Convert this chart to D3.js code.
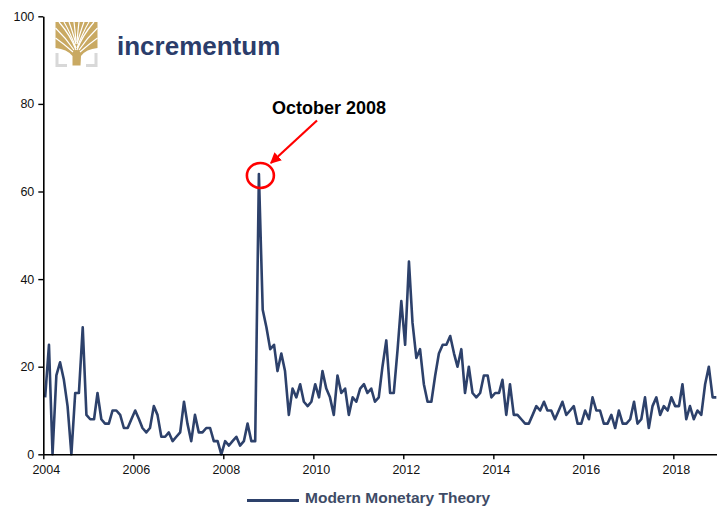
<!DOCTYPE html>
<html><head><meta charset="utf-8">
<script src="https://cdn.jsdelivr.net/npm/d3@7"></script>
<style>
html,body{margin:0;padding:0;background:#fff;}
svg{display:block;font-family:"Liberation Sans",Arial,sans-serif;}
</style></head>
<body><svg id="c" width="717" height="507"></svg>
<script>
// Monthly values, Jan 2004 .. Dec 2018
const startYear = 2004;
const values = [
 13,25,0,18,21,17,11,0,14,14,29,9,
 8,8,14,8,7,7,10,10,9,6,6,8,
 10,8,6,5,6,11,9,4,4,5,3,4,
 5,12,7,3,9,5,5,6,6,3,3,0,
 3,2,3,4,2,3,7,3,3,64,33,29,
 24,25,19,23,19,9,15,13,16,12,11,12,
 16,13,19,15,13,9,18,14,15,9,13,12,
 15,16,14,15,12,13,20,26,14,14,24,35,
 25,44,30,22,24,16,12,12,18,23,25,25,
 27,23,20,24,14,20,14,13,14,18,18,13,
 14,14,17,9,16,9,9,8,7,7,9,11,
 10,12,10,10,8,10,12,9,10,11,7,7,
 10,8,13,10,10,7,7,9,6,10,7,7,
 8,12,7,8,13,6,11,13,9,11,10,13,
 11,11,16,8,11,8,10,9,16,20,13,13
];
const yTicks = [0,20,40,60,80,100];
const xTickYears = [2004,2006,2008,2010,2012,2014,2016,2018];
const seriesName = "Modern Monetary Theory";
const annotationText = "October 2008";
const annotationIndex = 57;

const data = values.map((v,i)=>({date:new Date(startYear, i, 16), value:v}));

const svg = d3.select("#c");
const x = d3.scaleTime().domain([new Date(2004,0,1), new Date(2019,0,1)]).range([43.3, 718.3]);
const y = d3.scaleLinear().domain([0,100]).range([454.3, 16.3]);

svg.append("clipPath").attr("id","clip").append("rect")
  .attr("x",43).attr("y",0).attr("width",674).attr("height",460);

// line
svg.append("path").datum(data)
  .attr("clip-path","url(#clip)")
  .attr("fill","none").attr("stroke","#2d416b").attr("stroke-width",2.6)
  .attr("stroke-linejoin","round")
  .attr("d", d3.line().x(d=>x(d.date)).y(d=>y(d.value)));

// y axis
const ya = svg.append("g").attr("transform","translate(43.3,0)")
  .call(d3.axisLeft(y).tickValues(yTicks).tickSize(5).tickPadding(4).tickSizeOuter(0));
ya.select(".domain").attr("stroke","#000").attr("stroke-width",1.6);
ya.selectAll(".tick line").attr("stroke","#000").attr("stroke-width",1.4);
ya.selectAll("text").attr("font-size",12.5).attr("fill","#111").attr("font-family","Liberation Sans, Arial, sans-serif");

// x axis
const xa = svg.append("g").attr("transform","translate(0,454.3)")
  .call(d3.axisBottom(x).tickValues(xTickYears.map(yr=>new Date(yr,0,1)))
    .tickFormat(d3.timeFormat("%Y")).tickSize(5).tickPadding(6).tickSizeOuter(0));
xa.select(".domain").attr("stroke","#000").attr("stroke-width",1.6);
xa.selectAll(".tick line").attr("stroke","#000").attr("stroke-width",1.4);
xa.selectAll("text").attr("font-size",12.5).attr("fill","#111").attr("dx",2.5)
  .attr("font-family","Liberation Sans, Arial, sans-serif");

// annotation
const pk = data[annotationIndex];
const px = x(pk.date), py = y(pk.value);
svg.append("ellipse").attr("cx",px+1.5).attr("cy",py+1.5).attr("rx",13.5).attr("ry",12.5)
  .attr("fill","none").attr("stroke","#ff0000").attr("stroke-width",2.6);
const defs = svg.append("defs");
defs.append("marker").attr("id","ah").attr("viewBox","0 0 10 10").attr("refX",9).attr("refY",5)
  .attr("markerWidth",5).attr("markerHeight",5).attr("orient","auto")
  .append("path").attr("d","M0,0 L10,5 L0,10 Z").attr("fill","#ff0000");
svg.append("line").attr("x1",317).attr("y1",120.5).attr("x2",px+12).attr("y2",py-11)
  .attr("stroke","#ff0000").attr("stroke-width",2.2).attr("marker-end","url(#ah)");
svg.append("text").attr("x",329).attr("y",114).attr("text-anchor","middle")
  .attr("font-size",18).attr("font-weight","bold").attr("fill","#000").text(annotationText);

// logo
const lg = svg.append("g");
const gold = "#c9a962";
lg.append("path").attr("d","M55.5,22 L97.5,22 L97.5,48 Q86,49 81,56 L80.5,65.5 L72.5,65.5 L72.5,56 Q67,49 55.5,48 Z").attr("fill",gold);
const wl = [
 [76,50, 71,36, 59,22],[76,48, 70,32, 64,22],[76,44, 72,30, 69,22],[76,42, 75,30, 74,22],
 [77,42, 78,30, 79,22],[77,44, 81,30, 84,22],[77,48, 83,32, 89,22],[77,50, 82,36, 94,22],
 [74,50, 66,38, 55.5,28],[79,50, 87,38, 97.5,28],[73,52, 64,44, 55.5,38],[80,52, 89,44, 97.5,38]
];
wl.forEach(b=>{
  lg.append("path").attr("d",`M${b[0]},${b[1]} Q${b[2]},${b[3]} ${b[4]},${b[5]}`)
    .attr("fill","none").attr("stroke","#fff").attr("stroke-width",1.2);
});
lg.append("path").attr("d","M57,53 L57,65.5 L67,65.5").attr("fill","none").attr("stroke","#d8d8d8").attr("stroke-width",3);
lg.append("path").attr("d","M96,53 L96,65.5 L86,65.5").attr("fill","none").attr("stroke","#d8d8d8").attr("stroke-width",3);
svg.append("text").attr("x",117).attr("y",55).attr("font-size",26).attr("font-weight","bold")
  .attr("fill","#2b3d6b").text("incrementum");

// legend
svg.append("line").attr("x1",247).attr("x2",299).attr("y1",500.5).attr("y2",500.5)
  .attr("stroke","#2d416b").attr("stroke-width",3);
svg.append("text").attr("x",305).attr("y",503).attr("font-size",15.5).attr("font-weight","bold")
  .attr("fill","#3e4b66").text(seriesName);
</script></body></html>
